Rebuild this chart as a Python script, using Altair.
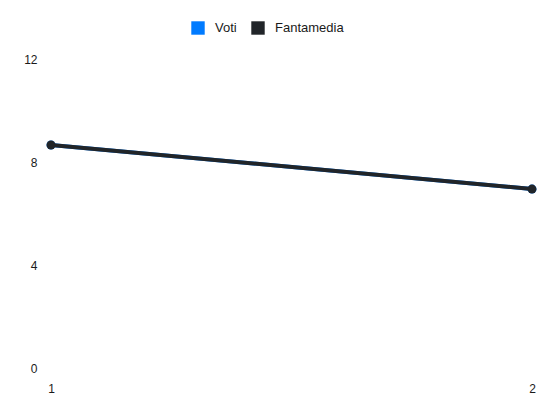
import altair as alt
import pandas as pd

giornate = [1, 2]
voti = [8.66, 6.95]
fantamedia = [8.66, 6.95]
serie = ["Voti", "Fantamedia"]
colori = ["#007bff", "#212529"]
y_ticks = [0, 4, 8, 12]

rows = []
for s, vals in zip(serie, [voti, fantamedia]):
    for g, v in zip(giornate, vals):
        rows.append({"giornata": g, "valore": v, "serie": s})
df = pd.DataFrame(rows)

FONT = "Liberation Sans"
TXT = "#1a1a1a"

color = alt.Color(
    "serie:N",
    scale=alt.Scale(domain=serie, range=colori),
    sort=serie,
    title=None,
    legend=alt.Legend(
        orient="none",
        direction="horizontal",
        legendX=140,
        legendY=-38,
        symbolType="square",
        symbolSize=180,
        symbolStrokeWidth=0,
        symbolOpacity=1,
        labelOffset=10,
        columnPadding=14,
        labelFontSize=13,
        labelFont=FONT,
        labelColor=TXT,
        padding=0,
    ),
)
x = alt.X(
    "giornata:Q",
    scale=alt.Scale(domain=[1, 2], nice=False, zero=False),
    axis=alt.Axis(
        values=giornate, format="d", title=None, grid=False, domain=False,
        ticks=False, labelPadding=15, labelFontSize=12, labelFont=FONT,
        labelColor=TXT, labelFlush=False,
    ),
)
y = alt.Y(
    "valore:Q",
    scale=alt.Scale(domain=[0, 12], nice=False),
    axis=alt.Axis(
        values=y_ticks, title=None, grid=False, domain=False, ticks=False,
        labelPadding=14, labelFontSize=12, labelFont=FONT, labelColor=TXT,
    ),
)

layers = []
for s in serie:
    base = alt.Chart(df).transform_filter(alt.datum.serie == s)
    layers.append(base.mark_line(strokeWidth=4).encode(x=x, y=y, color=color))
    layers.append(
        base.mark_point(filled=True, size=80, opacity=1).encode(x=x, y=y, color=color)
    )

chart = (
    alt.layer(*layers)
    .properties(
        width=481,
        height=309,
        autosize=alt.AutoSizeParams(type="none"),
        padding={"left": 43, "top": 51, "right": 10, "bottom": 30},
    )
    .configure(background="white")
    .configure_view(stroke=None, strokeWidth=0)
)

chart.save("out.html", embed_options={"renderer": "svg", "actions": False})
